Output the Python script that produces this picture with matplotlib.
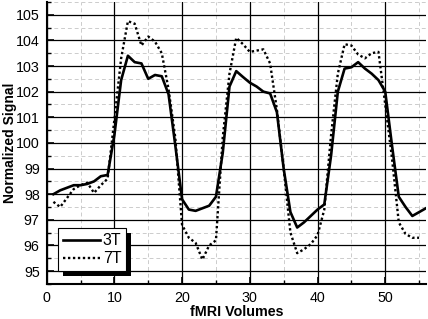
import matplotlib
matplotlib.use("Agg")
import matplotlib.pyplot as plt
from matplotlib.patches import Rectangle
from matplotlib.ticker import MultipleLocator

# fMRI volume index
vol_3t = list(range(1, 57))
vol_7t = list(range(1, 56))

sig_3t = [98.0, 98.15, 98.25, 98.35, 98.35, 98.4, 98.5, 98.7, 98.75, 100.3,
          102.45, 103.4, 103.15, 103.1, 102.5, 102.65, 102.6, 101.9, 99.9, 97.8,
          97.4, 97.35, 97.45, 97.55, 97.9, 99.6, 102.2, 102.8, 102.57, 102.35,
          102.2, 102.0, 101.93, 101.2, 99.0, 97.3, 96.7, 96.9, 97.15, 97.4,
          97.6, 99.5, 102.0, 102.9, 102.95, 103.15, 102.9, 102.7, 102.45, 102.0,
          99.9, 97.9, 97.5, 97.15, 97.3, 97.45]

sig_7t = [97.7, 97.5, 97.85, 98.2, 98.35, 98.45, 98.05, 98.35, 98.6, 100.9,
          103.3, 104.75, 104.65, 103.8, 104.15, 103.95, 103.5, 102.1, 100.2, 96.8,
          96.3, 96.1, 95.45, 96.0, 96.2, 100.2, 102.7, 104.1, 103.85, 103.55,
          103.6, 103.65, 103.1, 101.3, 99.0, 96.5, 95.7, 95.85, 96.05, 96.4,
          97.4, 100.3, 102.7, 103.85, 103.8, 103.45, 103.3, 103.5, 103.55, 101.5,
          99.4, 96.9, 96.45, 96.3, 96.3]

plt.rcParams['font.family'] = ['Liberation Sans', 'DejaVu Sans']

fig = plt.figure(figsize=(4.28, 3.19), dpi=100)
ax = fig.add_axes([0.109, 0.110, 0.886, 0.884])

ax.plot(vol_3t, sig_3t, color='black', lw=1.9, label='3T', zorder=3)
ax.plot(vol_7t, sig_7t, color='black', lw=1.7, linestyle=(0, (1, 1.1)), label='7T', zorder=3)

ax.set_xlim(0, 56)
ax.set_ylim(94.5, 105.5)
ax.xaxis.set_major_locator(MultipleLocator(10))
ax.xaxis.set_minor_locator(MultipleLocator(5))
ax.yaxis.set_major_locator(MultipleLocator(1))
ax.yaxis.set_minor_locator(MultipleLocator(0.5))

ax.grid(which='major', color='black', lw=0.9, ls='-')
ax.grid(which='minor', color='#cccccc', lw=0.7, ls=(0, (4, 3)))
ax.set_axisbelow(True)

for s in ['top', 'right']:
    ax.spines[s].set_visible(False)
for s in ['left', 'bottom']:
    ax.spines[s].set_linewidth(1.5)

ax.tick_params(which='major', direction='in', length=5, width=1.2, labelsize=10.3, pad=5)
ax.tick_params(which='minor', direction='in', length=3, width=1)

ax.set_xlabel('fMRI Volumes', fontsize=10.3, fontweight='bold', labelpad=0)
ax.set_ylabel('Normalized Signal', fontsize=10, fontweight='bold')
ax.yaxis.set_label_coords(-0.078, 0.5)

leg = ax.legend(loc='lower left', bbox_to_anchor=(0.009, 0.017), fancybox=False,
                edgecolor='black', framealpha=1, fontsize=11.5, handlelength=2.3,
                borderpad=0.3, labelspacing=0.2, handletextpad=0.2)
leg.get_frame().set_linewidth(0.8)
leg.set_zorder(6)

# solid offset shadow behind the legend box
fig.canvas.draw()
bb = leg.get_window_extent()
sh = Rectangle((bb.x0 + 5, bb.y0 - 5), bb.width, bb.height, transform=None,
               facecolor='black', edgecolor='none', zorder=5)
ax.add_artist(sh)

fig.savefig('out.png', dpi=100)
